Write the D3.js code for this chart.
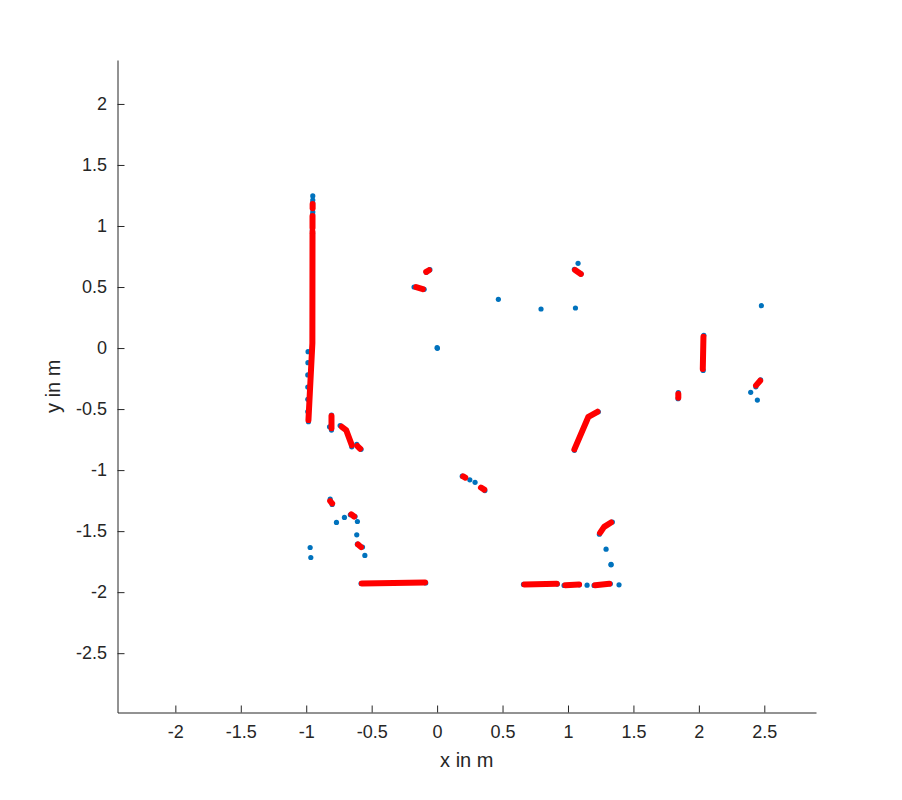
<!DOCTYPE html>
<html>
<head>
<meta charset="utf-8">
<script src="https://cdn.jsdelivr.net/npm/d3@7"></script>
<style>
  body { margin: 0; background: #fff; }
  svg { display: block; font-family: "Liberation Sans", Arial, Helvetica, sans-serif; }
  .axis path, .axis line { stroke: #262626; }
  .axis text { fill: #262626; font-size: 18px; }
  .axis-label { fill: #262626; font-size: 20px; }
</style>
</head>
<body>
<div id="chart"></div>
<script>
// scan plot - raw lidar points (blue) and fitted wall segments (red)

const xTicks = [-2, -1.5, -1, -0.5, 0, 0.5, 1, 1.5, 2, 2.5];
const yTicks = [-2.5, -2, -1.5, -1, -0.5, 0, 0.5, 1, 1.5, 2];
const xLimits = [-2.442, 2.895];
const yLimits = [-2.986, 2.36];

// raw scan points [x, y] in m
const scanPoints = [
    [-0.950, 1.246], [-0.950, 1.213], [-0.951, 1.190], [-0.950, 1.115], [-0.951, 1.095],
    [-0.953, 0.967], [-0.952, 0.940],
    [-0.986, -0.03], [-0.987, -0.12], [-0.988, -0.22], [-0.988, -0.32], [-0.988, -0.42],
    [-0.988, -0.52], [-0.983, -0.604],
    [-0.083, 0.620], [-0.055, 0.642],
    [-0.176, 0.500], [-0.099, 0.481],
    [0.002, -0.002], [0.000, 0.003],
    [0.468, 0.399], [0.794, 0.320], [1.057, 0.328], [1.077, 0.694],
    [1.049, 0.645], [1.100, 0.607],
    [-0.807, -0.549], [-0.807, -0.672], [-0.822, -0.645],
    [-0.741, -0.635], [-0.652, -0.809],
    [-0.614, -0.789], [-0.581, -0.830],
    [-0.817, -1.238], [-0.802, -1.282],
    [-0.663, -1.366], [-0.627, -1.380],
    [-0.769, -1.429], [-0.708, -1.388], [-0.609, -1.421], [-0.614, -1.530],
    [-0.609, -1.607], [-0.570, -1.631],
    [-0.552, -1.699], [-0.970, -1.634], [-0.965, -1.716],
    [-0.581, -1.929], [-0.087, -1.924],
    [0.660, -1.937], [0.919, -1.934], [0.970, -1.945], [1.087, -1.940], [1.146, -1.943],
    [1.199, -1.945], [1.324, -1.932], [1.390, -1.940], [1.329, -1.776],
    [1.049, -0.838], [1.232, -0.522],
    [1.240, -1.525], [1.339, -1.426],
    [1.291, -1.648], [1.329, -1.773],
    [0.192, -1.050], [0.250, -1.080], [0.290, -1.100], [0.365, -1.168],
    [2.478, 0.347], [2.038, 0.104], [2.033, -0.183],
    [1.843, -0.366], [1.841, -0.415],
    [2.435, -0.318], [2.472, -0.260], [2.396, -0.363], [2.447, -0.426]
];

// fitted line segments, each a polyline of [x, y]
const fitLines = [
    [[-0.951, 1.180], [-0.951, 1.145]],
    [[-0.952, 1.082], [-0.952, 0.984]],
    [[-0.952, 0.953], [-0.953, 0.041], [-0.983, -0.590]],
    [[-0.083, 0.624], [-0.062, 0.638]],
    [[-0.160, 0.500], [-0.109, 0.483]],
    [[1.054, 0.639], [1.098, 0.607]],
    [[-0.807, -0.557], [-0.807, -0.658]],
    [[-0.728, -0.645], [-0.695, -0.672], [-0.652, -0.795]],
    [[-0.609, -0.803], [-0.588, -0.825]],
    [[-0.817, -1.254], [-0.802, -1.273]],
    [[-0.655, -1.363], [-0.634, -1.380]],
    [[-0.604, -1.609], [-0.581, -1.631]],
    [[-0.575, -1.929], [-0.092, -1.920]],
    [[0.667, -1.937], [0.914, -1.932]],
    [[0.980, -1.943], [1.085, -1.937]],
    [[1.207, -1.943], [1.316, -1.932]],
    [[1.049, -0.830], [1.156, -0.563], [1.225, -0.522]],
    [[1.245, -1.514], [1.276, -1.465], [1.329, -1.429]],
    [[2.035, 0.093], [2.030, -0.172]],
    [[1.843, -0.377], [1.843, -0.407]],
    [[2.437, -0.306], [2.468, -0.268]],
    [[0.199, -1.052], [0.215, -1.062]],
    [[0.335, -1.143], [0.360, -1.160]]
];

const width = 902;
const height = 800;
const margin = { top: 60, right: 86, bottom: 87.5, left: 117.5 };
const innerWidth = width - margin.left - margin.right;
const innerHeight = height - margin.top - margin.bottom;

const svg = d3.select('#chart').append('svg')
    .attr('width', width)
    .attr('height', height);

const g = svg.append('g')
    .attr('transform', `translate(${margin.left}, ${margin.top})`);

const xScale = d3.scaleLinear().domain(xLimits).range([0, innerWidth]);
const yScale = d3.scaleLinear().domain(yLimits).range([innerHeight, 0]);

// raw points
g.selectAll('.scan-pt')
    .data(scanPoints)
    .join('circle')
    .attr('class', 'scan-pt')
    .attr('cx', d => xScale(d[0]))
    .attr('cy', d => yScale(d[1]))
    .attr('r', 2.6)
    .attr('fill', '#0072BD');

// fitted segments on top
const line = d3.line()
    .x(d => xScale(d[0]))
    .y(d => yScale(d[1]));

g.selectAll('.fit-line')
    .data(fitLines)
    .join('path')
    .attr('class', 'fit-line')
    .attr('d', line)
    .attr('fill', 'none')
    .attr('stroke', '#FF0000')
    .attr('stroke-width', 6)
    .attr('stroke-linecap', 'round')
    .attr('stroke-linejoin', 'round');

// axes, ticks pointing inward (matlab style, box off)
const xAxis = d3.axisBottom(xScale)
    .tickValues(xTicks)
    .tickFormat(d => d)
    .tickSizeInner(-7)
    .tickSizeOuter(0)
    .tickPadding(12.7);

g.append('g')
    .attr('class', 'axis x-axis')
    .attr('transform', `translate(0, ${innerHeight})`)
    .call(xAxis);

const yAxis = d3.axisLeft(yScale)
    .tickValues(yTicks)
    .tickFormat(d => d)
    .tickSizeInner(-7)
    .tickSizeOuter(0)
    .tickPadding(10.5);

g.append('g')
    .attr('class', 'axis y-axis')
    .call(yAxis);

g.selectAll('.axis text').attr('font-family', null);
g.selectAll('.axis').attr('font-size', null).attr('font-family', null);

// axis labels
svg.append('text')
    .attr('class', 'axis-label')
    .attr('x', margin.left + innerWidth / 2)
    .attr('y', 767)
    .attr('text-anchor', 'middle')
    .text('x in m');

svg.append('text')
    .attr('class', 'axis-label')
    .attr('transform', `translate(60, ${margin.top + innerHeight / 2}) rotate(-90)`)
    .attr('text-anchor', 'middle')
    .text('y in m');
</script>
</body>
</html>
